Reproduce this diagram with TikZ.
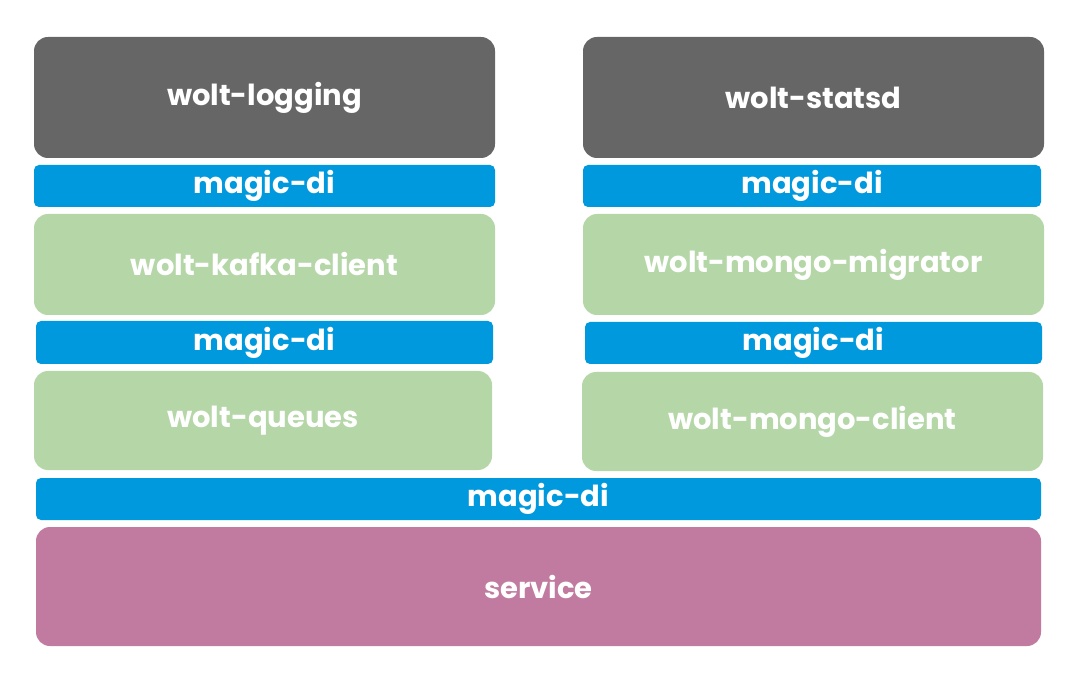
\documentclass[tikz,border=0pt]{standalone}
\usepackage{fontspec}
\setmainfont{Poppins}[BoldFont={* Bold}]
\begin{document}
\begin{tikzpicture}[x=1pt,y=-1pt,
  box/.style={rounded corners=14pt,draw=none},
  gray/.style={box,fill=black!60},
  green/.style={box,fill=green!40!black!25!white,fill={rgb,255:red,181;green,215;blue,168}},
  blue/.style={rounded corners=5pt,fill={rgb,255:red,0;green,153;blue,221}},
  pink/.style={box,fill={rgb,255:red,194;green,123;blue,160}},
  lbl/.style={text=white,font=\bfseries\fontsize{29}{32}\selectfont}]
\useasboundingbox (0,0) rectangle (1066,676);
\newcommand\bx[6]{\path[#1] (#2,#3) rectangle (#4,#5); \node[lbl] (n#2x#3) at ({(#2+#4)/2},{(#3+#5)/2}) {#6};}
\bx{gray}{34}{37}{495}{158}{wolt-logging}
\bx{gray}{583}{37}{1044}{158}{wolt-statsd}
\bx{blue}{34}{165}{495}{207}{magic-di}
\bx{blue}{583}{165}{1041}{207}{magic-di}
\bx{green}{34}{214}{495}{315}{wolt-kafka-client}
\bx{green}{583}{214}{1044}{315}{wolt-mongo-migrator}
\bx{blue}{36}{321}{493}{364}{magic-di}
\bx{blue}{585}{322}{1042}{364}{magic-di}
\bx{green}{34}{371}{492}{470}{wolt-queues}
\bx{green}{582}{372}{1043}{471}{wolt-mongo-client}
\bx{blue}{36}{478}{1041}{520}{magic-di}
\bx{pink}{36}{527}{1041}{646}{service}
\end{tikzpicture}
\end{document}
